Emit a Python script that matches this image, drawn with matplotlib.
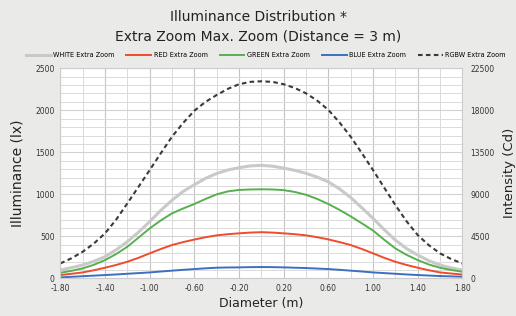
import numpy as np
import matplotlib
matplotlib.use("Agg")
import matplotlib.pyplot as plt
from matplotlib.ticker import MultipleLocator

diameter = [-1.8, -1.7, -1.6, -1.5, -1.4, -1.3, -1.2, -1.1, -1.0, -0.9,
            -0.8, -0.7, -0.6, -0.5, -0.4, -0.3, -0.2, -0.1, 0.0,
            0.1, 0.2, 0.3, 0.4, 0.5, 0.6, 0.7, 0.8, 0.9, 1.0,
            1.1, 1.2, 1.3, 1.4, 1.5, 1.6, 1.7, 1.8]
white = [99, 128, 159, 203, 258, 340, 437, 550, 675, 810,
         930, 1035, 1115, 1190, 1248, 1290, 1317, 1338, 1345,
         1335, 1312, 1285, 1250, 1205, 1148, 1065, 962, 840, 714,
         580, 456, 355, 278, 210, 159, 125, 99]
red = [40, 55, 71, 97, 127, 160, 198, 245, 298, 350,
       397, 432, 462, 490, 512, 526, 536, 545, 550,
       545, 536, 526, 512, 490, 464, 432, 397, 350, 298,
       245, 198, 160, 127, 97, 71, 58, 46]
green = [67, 90, 119, 162, 218, 290, 377, 485, 595, 690,
         774, 832, 885, 945, 1000, 1035, 1052, 1058, 1060,
         1058, 1050, 1028, 995, 945, 885, 815, 738, 655, 570,
         460, 357, 280, 218, 165, 127, 100, 79]
blue = [12, 19, 26, 33, 40, 47, 55, 63, 71, 82,
        92, 102, 111, 120, 127, 130, 131, 134, 135,
        134, 131, 127, 123, 117, 111, 102, 92, 82, 71,
        63, 55, 47, 40, 34, 28, 24, 20]
rgbw = [178, 240, 317, 415, 536, 700, 893, 1090, 1289, 1490,
        1686, 1850, 1995, 2100, 2182, 2255, 2310, 2338, 2345,
        2338, 2310, 2265, 2202, 2115, 2005, 1855, 1686, 1490, 1289,
        1080, 873, 680, 516, 395, 298, 230, 178]

xticks = [-1.8, -1.4, -1.0, -0.6, -0.2, 0.2, 0.6, 1.0, 1.4, 1.8]
labels = ["WHITE Extra Zoom", "RED Extra Zoom", "GREEN Extra Zoom",
          "BLUE Extra Zoom", "RGBW Extra Zoom"]

bg = "#eaeae8"
fig = plt.figure(figsize=(5.16, 3.16), dpi=100, facecolor=bg)
ax = fig.add_axes([0.117, 0.119, 0.779, 0.665])
ax.set_facecolor("white")

ax.plot(diameter, white, color="#c9c9c9", lw=2.2, label=labels[0])
ax.plot(diameter, red, color="#f04b2a", lw=1.4, label=labels[1])
ax.plot(diameter, green, color="#55b04e", lw=1.4, label=labels[2])
ax.plot(diameter, blue, color="#3c6fc2", lw=1.4, label=labels[3])
ax.plot(diameter, rgbw, color="#3a3a3a", lw=1.5, ls=(0, (2.2, 1.6)), label=labels[4])

ax.set_xlim(-1.8, 1.8)
ax.set_ylim(0, 2500)
ax.set_xticks(xticks)
ax.set_xticklabels([f"{v:.2f}" for v in xticks])
ax.xaxis.set_minor_locator(MultipleLocator(0.2))
ax.yaxis.set_major_locator(MultipleLocator(500))
ax.yaxis.set_minor_locator(MultipleLocator(100))
ax.grid(which="minor", axis="both", color="#dadada", lw=0.7)
ax.grid(which="major", axis="x", color="#c4c4c4", lw=0.8)
ax.grid(which="major", axis="y", color="#d2d2d2", lw=0.8)
ax.set_axisbelow(True)
ax.tick_params(which="both", length=0, labelsize=5.5, colors="#333333", pad=4)
for s in ax.spines.values():
    s.set_color("#cccccc")
    s.set_linewidth(0.8)

ax2 = ax.twinx()
ax2.set_ylim(0, 22500)
ax2.yaxis.set_major_locator(MultipleLocator(4500))
ax2.tick_params(length=0, labelsize=5.5, colors="#333333", pad=6)
for s in ax2.spines.values():
    s.set_visible(False)

ax.set_xlabel("Diameter (m)", fontsize=9, color="#222222", labelpad=3)
ax.set_ylabel("Illuminance (lx)", fontsize=10, color="#222222", labelpad=8)
ax2.set_ylabel("Intensity (Cd)", fontsize=9.5, color="#222222", labelpad=6)

fig.text(0.5, 0.946, "Illuminance Distribution *", ha="center", va="center",
         fontsize=10, color="#222222")
fig.text(0.5, 0.883, "Extra Zoom Max. Zoom (Distance = 3 m)", ha="center",
         va="center", fontsize=10, color="#222222")

handles, labs = ax.get_legend_handles_labels()
fig.legend(handles, labs, loc="center", bbox_to_anchor=(0.515, 0.826), ncol=5,
           frameon=False, fontsize=4.7, handlelength=3.8, columnspacing=1.8,
           handletextpad=0.4, borderpad=0.2, borderaxespad=0.0)

fig.savefig("out.png", dpi=100, facecolor=bg)
